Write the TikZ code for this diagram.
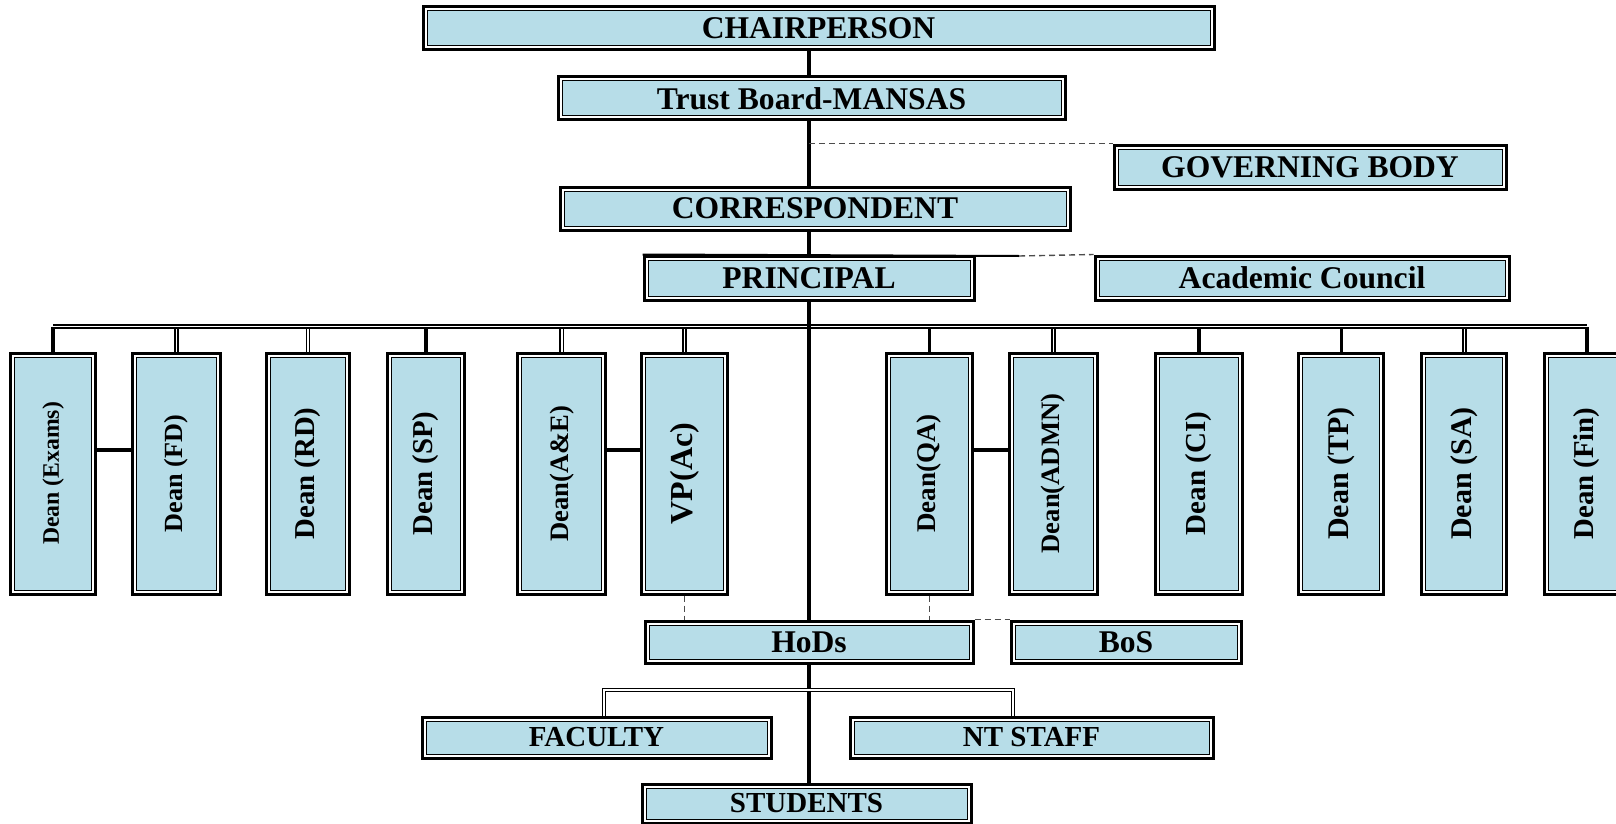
\documentclass[tikz,border=0pt]{standalone}
\usepackage{fontspec}
\setmainfont{Liberation Serif}
\definecolor{boxblue}{RGB}{183,221,232}
\tikzset{
  orgbox/.style={draw, line width=1.5pt, fill=boxblue, inner sep=0pt,
    font=\bfseries\fontsize{15.8pt}{18pt}\selectfont,
    path picture={
      \draw[white, line width=1pt] ([shift={(1.25pt,-1.25pt)}]path picture bounding box.north west) rectangle ([shift={(-1.25pt,1.25pt)}]path picture bounding box.south east);
      \draw[black, line width=0.5pt] ([shift={(2pt,-2pt)}]path picture bounding box.north west) rectangle ([shift={(-2pt,2pt)}]path picture bounding box.south east);
    }},
  boxsize/.style 2 args={minimum width=#1*0.5pt, minimum height=#2*0.5pt},
  fs/.style={font=\bfseries\fontsize{#1pt}{#1pt}\selectfont},
  trunk/.style={line width=1.75pt},
  dlink/.style={double, line width=0.85pt, double distance=0.7pt},
  thinlink/.style={line width=1pt},
  dashlink/.style={densely dashed, line width=0.7pt, black!70}
}
\begin{document}
\begin{tikzpicture}[x=0.5pt,y=-0.5pt]
\useasboundingbox (0,0) rectangle (1616,824);
\node[orgbox, boxsize={791}{43}] (chair) at (818.5,28.5) {CHAIRPERSON};
\node[orgbox, boxsize={507}{43}] (trust) at (811.5,98.5) {Trust Board-MANSAS};
\node[orgbox, boxsize={392}{44}] (gov) at (1310,167) {GOVERNING BODY};
\node[orgbox, boxsize={510}{43}] (corr) at (815,208.5) {CORRESPONDENT};
\node[orgbox, boxsize={330}{44}] (princ) at (809,278) {PRINCIPAL};
\node[orgbox, boxsize={414}{44}] (acad) at (1302,278) {Academic Council};
\node[orgbox, boxsize={85}{241}, fs=11.85] (exams) at (53.2,473.5) {\rotatebox{90}{Dean (Exams)}};
\node[orgbox, boxsize={87.5}{241}, fs=13.1] (fd) at (176.5,473.5) {\rotatebox{90}{Dean (FD)}};
\node[orgbox, boxsize={83.6}{241}, fs=14.4] (rd) at (308,473.5) {\rotatebox{90}{Dean (RD)}};
\node[orgbox, boxsize={77}{241}, fs=14.4] (sp) at (426,473.5) {\rotatebox{90}{Dean (SP)}};
\node[orgbox, boxsize={87.8}{241}, fs=13.3] (ae) at (561.8,473.5) {\rotatebox{90}{Dean(A\&E)}};
\node[orgbox, boxsize={85.7}{241}, fs=16] (vp) at (684.5,473.5) {\rotatebox{90}{VP(Ac)}};
\node[orgbox, boxsize={86}{241}, fs=13.5] (qa) at (929.3,473.5) {\rotatebox{90}{Dean(QA)}};
\node[orgbox, boxsize={87.5}{241}, fs=13.3] (admn) at (1053.3,473.5) {\rotatebox{90}{Dean(ADMN)}};
\node[orgbox, boxsize={86.6}{241}, fs=14.5] (ci) at (1199,473.5) {\rotatebox{90}{Dean (CI)}};
\node[orgbox, boxsize={85.2}{241}, fs=15] (tp) at (1341.3,473.5) {\rotatebox{90}{Dean (TP)}};
\node[orgbox, boxsize={85}{241}, fs=15] (sa) at (1464.3,473.5) {\rotatebox{90}{Dean (SA)}};
\node[orgbox, boxsize={86}{241}, fs=14.4] (fin) at (1587,473.5) {\rotatebox{90}{Dean (Fin)}};
\node[orgbox, boxsize={328}{42}] (hods) at (809,642) {HoDs};
\node[orgbox, boxsize={230}{42}] (bos) at (1126,642) {BoS};
\node[orgbox, boxsize={349}{41}, fs=14.5] (faculty) at (596.5,737.5) {FACULTY};
\node[orgbox, boxsize={363}{41}, fs=14.5] (ntstaff) at (1031.5,737.5) {NT STAFF};
\node[orgbox, boxsize={329}{39}, fs=14.5] (students) at (806.5,803.5) {STUDENTS};
\coordinate (bus) at (0,326.5);
\coordinate (pairrow) at (0,450);
\coordinate (split) at (809,690);
\coordinate (acadjoin) at (1019,256);
\foreach \n in {exams,sp,qa,ci,tp,fin}
  \draw[trunk] (\n.north) -- (\n.north |- bus);
\foreach \n in {fd,rd,ae,vp,admn,sa}
  \draw[dlink] (\n.north) -- (\n.north |- bus);
\draw[dlink] (exams.north |- bus) -- (fin.north |- bus);
\draw[trunk] (chair.south -| princ) -- (trust.north -| princ);
\draw[trunk] (trust.south -| princ) -- (corr.north -| princ);
\draw[trunk] (corr.south -| princ) -- (princ.north);
\draw[trunk] (princ.south) -- (hods.north);
\draw[trunk] (hods.south) -- (students.north -| hods);
\draw[dashlink] (gov.north west -| princ) -- (gov.north west);
\draw[thinlink] (princ.north west) -- (acadjoin);
\draw[dashlink] (acadjoin) -- (acad.north west);
\draw[trunk] (exams.east |- pairrow) -- (fd.west |- pairrow);
\draw[trunk] (ae.east |- pairrow) -- (vp.west |- pairrow);
\draw[trunk] (qa.east |- pairrow) -- (admn.west |- pairrow);
\draw[dashlink] (vp.south) -- (vp.south |- hods.north);
\draw[dashlink] (qa.south) -- (qa.south |- hods.north);
\draw[dashlink] (hods.north east) -- (bos.north west);
\draw[dlink] ([xshift=3.75pt]faculty.north) |- (split) -| ([xshift=-9.25pt]ntstaff.north);
\end{tikzpicture}
\end{document}
